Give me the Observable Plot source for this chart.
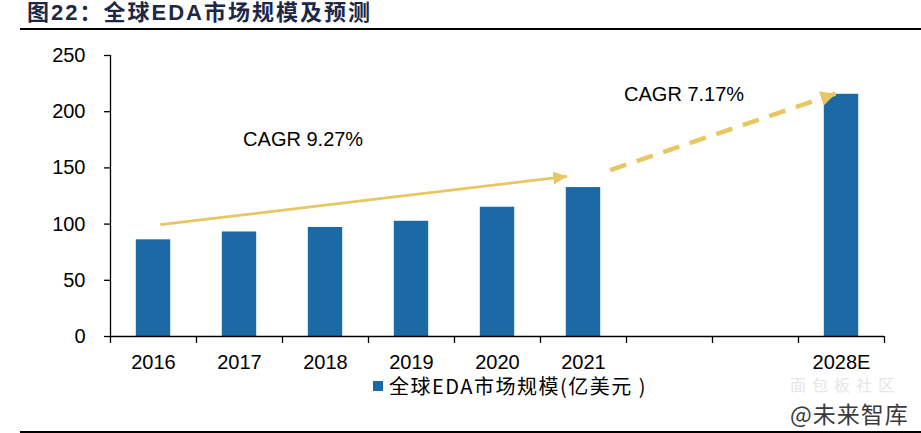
<!DOCTYPE html>
<html>
<head>
<meta charset="utf-8">
<script src="https://cdn.jsdelivr.net/npm/d3@7"></script>
<script src="https://cdn.jsdelivr.net/npm/@observablehq/plot@0.6"></script>
<style>
  html, body { margin: 0; padding: 0; background: #fff; }
  #wrap { position: relative; width: 921px; height: 433px; overflow: hidden; font-family: "Liberation Sans", Arial, "Noto Sans CJK SC", sans-serif; }
  #chart { position: absolute; left: 0; top: 0; }
  #title { position: absolute; left: 27px; top: 1px; font-size: 22px; line-height: 23px; letter-spacing: 2px; font-weight: bold; color: #1c2845; white-space: pre; font-family: "Liberation Sans", Arial, "Noto Sans CJK SC", sans-serif; }
  #titleRule { position: absolute; left: 20px; top: 28px; width: 901px; height: 2px; background: #000; }
  #bottomRule { position: absolute; left: 20px; top: 431px; width: 901px; height: 2px; background: #000; }
  #legend { position: absolute; left: 373px; top: 376px; display: flex; align-items: center; font-size: 20px; line-height: 20px; letter-spacing: 1.5px; color: #000; font-family: "Noto Sans CJK SC", sans-serif; }
  #legend .sw { width: 10px; height: 10px; margin-right: 6px; }
  #wm1 { position: absolute; left: 790px; top: 376px; font-size: 16px; color: #e6e6e6; font-family: "Noto Sans CJK SC", sans-serif; line-height: 16px; letter-spacing: 6px; }
  #wm2 { position: absolute; left: 790px; top: 402px; font-size: 23px; color: #3a3a3a; font-family: "Noto Sans CJK SC", sans-serif; line-height: 23px; letter-spacing: 1px; text-shadow: 0 0 2px #fff; }
</style>
</head>
<body>
<div id="wrap">
  <div id="chart"></div>
  <div id="title"></div>
  <div id="titleRule"></div>
  <div id="legend"></div>
  <div id="wm1"></div>
  <div id="wm2"></div>
  <div id="bottomRule"></div>
</div>
<script>
// ---- data ----
const titleText = "图22：全球EDA市场规模及预测";
const seriesName = "全球EDA市场规模(亿美元 )";
const xSlots = ["2016", "2017", "2018", "2019", "2020", "2021", "", "", "2028E"]; // axis slots (two empty)
const categories = ["2016", "2017", "2018", "2019", "2020", "2021", "2028E"];
const marketSize = [86, 93, 97, 102.5, 115, 132.5, 215.5];
const yTicks = [0, 50, 100, 150, 200, 250];
const cagrLabels = ["CAGR 9.27%", "CAGR 7.17%"];
const cagrLabelAt = [[2.24, 175], [6.67, 215]];      // [slot position, value]
const arrowFrom = [[0.58, 99.5], [5.81, 148]];
const arrowTo = [[5.31, 142.5], [8.43, 216]];
const watermark = ["面包板社区", "@未来智库"];

const barColor = "#1b6aa5";
const arrowColor = "#e8c662";

// ---- tables built from arrays ----
const bars = categories.map((c, i) => ({cat: c, pos: xSlots.indexOf(c), value: marketSize[i]}));
const arrows = arrowFrom.map((f, i) => ({x1: f[0], y1: f[1], x2: arrowTo[i][0], y2: arrowTo[i][1], dashed: i === 1}));
const labels = cagrLabels.map((t, i) => ({text: t, x: cagrLabelAt[i][0], y: cagrLabelAt[i][1]}));

const plot = Plot.plot({
  width: 921,
  height: 433,
  marginTop: 55,
  marginBottom: 97,
  marginLeft: 110,
  marginRight: 37,
  style: {fontFamily: "'Liberation Sans', Arial, sans-serif", fontSize: "20px", color: "#000", background: "transparent"},
  x: {domain: [0, xSlots.length], axis: null},
  y: {domain: [0, 250], axis: null},
  marks: [
    Plot.rectY(bars, {x1: d => d.pos + 0.3, x2: d => d.pos + 0.7, y: "value", fill: barColor}),
    Plot.ruleX([0], {y1: 0, y2: 250, stroke: "#000", strokeWidth: 1.3}),
    Plot.ruleY([0], {x1: 0, x2: xSlots.length, stroke: "#000", strokeWidth: 1.3}),
    Plot.axisY({ticks: yTicks, tickSize: 6, tickPadding: 19, fontSize: 20, stroke: "#000", strokeWidth: 1.3, label: null}),
    Plot.axisX({ticks: d3.range(xSlots.length + 1), tickSize: 7, tickFormat: () => "", stroke: "#000", strokeWidth: 1.3, label: null}),
    Plot.axisX({ticks: xSlots.map((d, i) => i + 0.5), tickSize: 0, tickPadding: 18, fontSize: 20, tickFormat: d => xSlots[Math.floor(d)], label: null}),
    Plot.link(arrows.filter(d => !d.dashed), {x1: "x1", y1: "y1", x2: "x2", y2: "y2", stroke: arrowColor, strokeWidth: 2.8, ariaLabel: () => "arrow-solid"}),
    Plot.link(arrows.filter(d => d.dashed), {x1: "x1", y1: "y1", x2: "x2", y2: "y2", stroke: arrowColor, strokeWidth: 4.5, strokeDasharray: "17,11", ariaLabel: () => "arrow-dashed"}),
    Plot.text(labels, {x: "x", y: "y", text: "text", fontSize: 20, fill: "#000"})
  ]
});

// filled triangular arrowheads
const ns = "http://www.w3.org/2000/svg";
const defs = document.createElementNS(ns, "defs");
function addMarker(id, len, wid) {
  const m = document.createElementNS(ns, "marker");
  m.setAttribute("id", id);
  m.setAttribute("markerUnits", "userSpaceOnUse");
  m.setAttribute("markerWidth", len);
  m.setAttribute("markerHeight", wid);
  m.setAttribute("viewBox", `0 0 ${len} ${wid}`);
  m.setAttribute("refX", len);
  m.setAttribute("refY", wid / 2);
  m.setAttribute("orient", "auto");
  const p = document.createElementNS(ns, "path");
  p.setAttribute("d", `M0,0L${len},${wid / 2}L0,${wid}Z`);
  p.setAttribute("fill", arrowColor);
  m.appendChild(p);
  defs.appendChild(m);
}
addMarker("headSolid", 14, 13);
addMarker("headDashed", 15, 15);
plot.insertBefore(defs, plot.firstChild);
function applyHead(label, id) {
  plot.querySelectorAll(`[aria-label="${label}"]`).forEach(el => {
    const paths = el.tagName.toLowerCase() === "path" ? [el] : el.querySelectorAll("path");
    paths.forEach(p => p.setAttribute("marker-end", `url(#${id})`));
  });
}
applyHead("arrow-solid", "headSolid");
applyHead("arrow-dashed", "headDashed");

document.getElementById("chart").appendChild(plot);
document.getElementById("title").textContent = titleText;
const lg = document.getElementById("legend");
const sw = document.createElement("span");
sw.className = "sw"; sw.style.background = barColor;
lg.appendChild(sw);
lg.appendChild(document.createTextNode(seriesName));
document.getElementById("wm1").textContent = watermark[0];
document.getElementById("wm2").textContent = watermark[1];
</script>
</body>
</html>
